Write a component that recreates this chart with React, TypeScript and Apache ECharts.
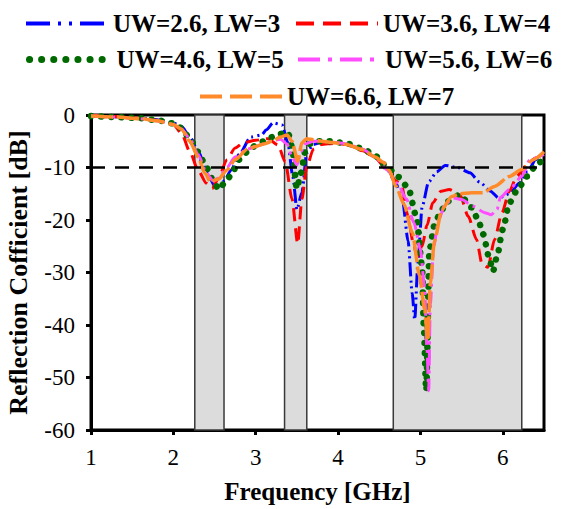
import React, { useEffect, useRef } from "react";
import * as echarts from "echarts";

const FONT = "Times New Roman, Liberation Serif, DejaVu Serif, serif";

const seriesNames = [
  "UW=2.6, LW=3",
  "UW=3.6, LW=4",
  "UW=4.6, LW=5",
  "UW=5.6, LW=6",
  "UW=6.6, LW=7",
];

const blueFreq = [1.0, 1.3, 1.6, 1.8, 2.0, 2.1, 2.2, 2.3, 2.4, 2.5, 2.55, 2.62, 2.7, 2.8, 2.94, 3.07, 3.13, 3.21, 3.32, 3.39, 3.45, 3.5, 3.56, 3.62, 3.7, 3.8, 3.95, 4.1, 4.3, 4.45, 4.6, 4.7, 4.78, 4.85, 4.9, 4.93, 4.97, 5.02, 5.1, 5.2, 5.3, 5.45, 5.6, 5.72, 5.85, 5.95, 6.08, 6.2, 6.3, 6.4, 6.5];
const blueS11 = [-0.2, -0.4, -0.6, -0.9, -1.5, -2.2, -4.2, -6.8, -10.5, -13.5, -14.0, -12.5, -10.5, -7.5, -4.2, -3.8, -2.8, -1.5, -1.9, -5.3, -11.7, -18.0, -14.8, -7.2, -5.6, -5.2, -5.3, -5.6, -6.6, -8.0, -10.5, -13.0, -16.0, -24.0, -34.0, -39.0, -28.0, -17.5, -12.7, -10.8, -9.6, -10.0, -11.0, -12.8, -14.5, -15.8, -15.0, -13.0, -10.8, -8.5, -7.0];

const redFreq = [1.0, 1.3, 1.6, 1.8, 2.0, 2.1, 2.2, 2.3, 2.4, 2.47, 2.55, 2.65, 2.75, 2.85, 3.0, 3.15, 3.27, 3.36, 3.44, 3.51, 3.56, 3.62, 3.7, 3.8, 3.95, 4.1, 4.3, 4.45, 4.6, 4.7, 4.77, 4.85, 4.91, 4.96, 5.02, 5.08, 5.15, 5.25, 5.35, 5.48, 5.58, 5.68, 5.75, 5.82, 5.9, 5.99, 6.08, 6.17, 6.27, 6.4, 6.5];
const redS11 = [0.0, -0.3, -0.6, -1.0, -1.8, -3.5, -7.0, -10.5, -13.0, -14.0, -12.0, -8.5, -6.3, -5.3, -4.8, -4.5, -5.7, -9.0, -16.0, -24.5, -16.0, -9.8, -6.5, -5.6, -5.4, -5.6, -6.8, -8.2, -10.5, -12.5, -13.5, -19.3, -24.2, -27.0, -25.0, -21.0, -16.7, -14.5, -14.2, -15.2, -19.3, -23.7, -28.5, -29.0, -23.7, -18.6, -14.5, -11.7, -9.8, -8.2, -7.0];

const greenFreq = [1.0, 1.3, 1.6, 1.8, 2.0, 2.1, 2.2, 2.3, 2.4, 2.5, 2.55, 2.62, 2.7, 2.8, 2.9, 3.0, 3.1, 3.2, 3.3, 3.39, 3.44, 3.5, 3.55, 3.6, 3.66, 3.75, 3.9, 4.1, 4.3, 4.45, 4.6, 4.73, 4.85, 4.95, 5.02, 5.04, 5.07, 5.11, 5.17, 5.24, 5.32, 5.48, 5.62, 5.7, 5.76, 5.84, 5.88, 5.93, 6.0, 6.08, 6.18, 6.29, 6.43, 6.5];
const greenS11 = [-0.2, -0.4, -0.6, -1.0, -1.6, -2.5, -4.5, -7.0, -10.0, -13.0, -14.2, -13.0, -11.5, -8.5, -7.0, -5.8, -5.0, -4.2, -3.6, -3.3, -6.0, -14.0, -11.0, -7.0, -5.5, -5.0, -5.0, -5.4, -6.4, -7.8, -10.0, -11.8, -13.8, -19.3, -28.8, -40.0, -52.5, -25.6, -21.0, -18.6, -16.5, -15.2, -17.6, -19.9, -22.7, -27.5, -29.8, -26.9, -21.8, -16.7, -14.2, -11.7, -9.1, -8.5];

const magentaFreq = [1.0, 1.3, 1.6, 1.8, 2.0, 2.1, 2.2, 2.3, 2.4, 2.48, 2.55, 2.65, 2.75, 2.9, 3.0, 3.1, 3.2, 3.3, 3.38, 3.44, 3.5, 3.55, 3.6, 3.7, 3.8, 3.95, 4.1, 4.3, 4.45, 4.6, 4.72, 4.83, 4.92, 5.0, 5.05, 5.08, 5.1, 5.12, 5.16, 5.22, 5.3, 5.4, 5.5, 5.64, 5.78, 5.86, 5.93, 5.97, 6.08, 6.23, 6.33, 6.5];
const magentaS11 = [-0.2, -0.4, -0.7, -1.1, -1.8, -2.7, -4.5, -7.5, -11.0, -12.5, -12.0, -10.0, -8.0, -6.5, -6.0, -5.5, -5.0, -4.6, -5.5, -8.0, -9.5, -7.0, -5.5, -5.0, -5.0, -5.2, -5.5, -6.5, -8.0, -10.5, -13.0, -16.0, -20.5, -25.6, -33.0, -45.0, -52.5, -36.0, -25.0, -20.0, -17.0, -15.8, -16.1, -17.4, -18.6, -19.0, -18.0, -15.7, -14.2, -11.7, -8.5, -7.5];

const orangeFreq = [1.0, 1.3, 1.6, 1.8, 2.0, 2.1, 2.2, 2.3, 2.38, 2.45, 2.55, 2.65, 2.75, 2.9, 3.0, 3.1, 3.2, 3.3, 3.38, 3.44, 3.51, 3.56, 3.62, 3.7, 3.8, 3.95, 4.1, 4.3, 4.45, 4.55, 4.62, 4.7, 4.8, 4.9, 4.99, 5.05, 5.09, 5.12, 5.17, 5.26, 5.38, 5.48, 5.62, 5.76, 5.9, 6.08, 6.23, 6.37, 6.5];
const orangeS11 = [-0.2, -0.4, -0.7, -1.1, -1.8, -2.7, -5.0, -8.0, -11.0, -12.7, -12.2, -10.5, -8.5, -6.5, -6.0, -5.5, -5.0, -4.2, -3.8, -5.0, -8.8, -5.3, -4.5, -4.7, -5.0, -5.3, -5.6, -6.6, -8.0, -9.0, -10.5, -13.5, -17.0, -22.4, -30.7, -37.0, -43.0, -32.0, -24.0, -18.0, -15.5, -15.0, -14.8, -14.8, -13.6, -11.7, -10.4, -8.5, -7.0];

const bandRanges = [
  [2.26, 2.615],
  [3.35, 3.62],
  [4.67, 6.23],
];

const xTicks = [1, 2, 3, 4, 5, 6];
const threshold = -10;

const pairs = (xs: number[], ys: number[]) => xs.map((x, i) => [x, ys[i]]);

export default function App() {
  const ref = useRef<HTMLDivElement>(null);
  useEffect(() => {
    if (!ref.current) return;
    const chart = echarts.init(ref.current, undefined, { renderer: "svg" });

    const styles = [
      { color: "#0000ff", type: [14, 4, 2, 4, 2, 4], width: 3, cap: "butt" },
      { color: "#ff0000", type: [13, 7], width: 3, cap: "butt" },
      { color: "#006a00", type: [0.1, 10], width: 6.5, cap: "round" },
      { color: "#ff4dff", type: [16, 5, 3, 5], width: 3, cap: "butt" },
      { color: "#ff8a2a", type: [22, 4], width: 3.5, cap: "butt" },
    ];
    const legendLine = [
      { type: [24, 8, 3, 8, 3, 8], width: 4, cap: "butt" },
      { type: [18, 9], width: 4, cap: "butt" },
      { type: [0.1, 12], width: 7, cap: "round" },
      { type: [22, 8, 4, 8], width: 4, cap: "butt" },
      { type: [22, 8], width: 4, cap: "butt" },
    ];
    const datas = [
      pairs(blueFreq, blueS11),
      pairs(redFreq, redS11),
      pairs(greenFreq, greenS11),
      pairs(magentaFreq, magentaS11),
      pairs(orangeFreq, orangeS11),
    ];

    const legendPos = [
      { left: 24, top: 11 },
      { left: 294, top: 11 },
      { left: 26, top: 47 },
      { left: 296, top: 47 },
      { left: 198, top: 84 },
    ];

    const option: any = {
      animation: false,
      backgroundColor: "#ffffff",
      textStyle: { fontFamily: FONT },
      legend: seriesNames.map((n, i) => ({
        data: [n],
        left: legendPos[i].left,
        top: legendPos[i].top,
        padding: 0,
        itemWidth: 82,
        itemHeight: 24,
        selectedMode: false,
        itemStyle: { opacity: 0, borderWidth: 0 },
        lineStyle: { width: legendLine[i].width, type: legendLine[i].type, cap: legendLine[i].cap },
        textStyle: { fontFamily: FONT, fontSize: 25, fontWeight: "bold", color: "#000" },
      })),
      grid: {
        left: 91,
        right: 23,
        top: 115,
        bottom: 79,
        containLabel: false,
        outerBoundsMode: "none",
        show: true,
        borderColor: "#000",
        borderWidth: 3,
        backgroundColor: "transparent",
      },
      xAxis: {
        type: "value",
        min: 1,
        max: 6.5,
        interval: 1,
        name: "Frequency [GHz]",
        nameLocation: "middle",
        nameGap: 49,
        nameTextStyle: { fontFamily: FONT, fontSize: 25, fontWeight: "bold", color: "#000" },
        axisLine: { show: true, onZero: false, lineStyle: { color: "#000", width: 3 } },
        axisTick: { show: true, inside: false, length: 5, lineStyle: { color: "#000", width: 3 } },
        splitLine: { show: false },
        axisLabel: {
          showMaxLabel: false,
          margin: 16,
          fontFamily: FONT,
          fontSize: 23,
          color: "#000",
          formatter: (v: number) => (xTicks.includes(v) ? String(v) : ""),
        },
      },
      yAxis: {
        type: "value",
        min: -60,
        max: 0,
        interval: 10,
        name: "Reflection Cofficient [dB]",
        nameLocation: "middle",
        nameGap: 60,
        nameTextStyle: { fontFamily: FONT, fontSize: 26, fontWeight: "bold", color: "#000" },
        axisLine: { show: true, onZero: false, lineStyle: { color: "#000", width: 3 } },
        axisTick: { show: true, inside: false, length: 5, lineStyle: { color: "#000", width: 3 } },
        splitLine: { show: false },
        axisLabel: { margin: 16, fontFamily: FONT, fontSize: 23, color: "#000" },
      },
      series: [
        {
          name: "bands",
          type: "line",
          data: [],
          z: 1,
          silent: true,
          markArea: {
            silent: true,
            itemStyle: { color: "#dcdcdc", borderColor: "#3a3a3a", borderWidth: 1.5 },
            label: { show: false },
            data: bandRanges.map((r) => [{ xAxis: r[0] }, { xAxis: r[1] }]),
          },
          markLine: {
            silent: true,
            symbol: "none",
            label: { show: false },
            lineStyle: { color: "#000", width: 2.5, type: [14, 10] },
            data: [{ yAxis: threshold }],
          },
        },
        ...seriesNames.map((n, i) => ({
          name: n,
          type: "line",
          data: datas[i],
          z: 3,
          symbol: "none",
          showSymbol: false,
          smooth: 0.25,
          smoothMonotone: "x",
          color: styles[i].color,
          lineStyle: {
            color: styles[i].color,
            width: styles[i].width,
            type: styles[i].type,
            cap: styles[i].cap,
          },
        })),
      ],
    };
    chart.setOption(option);
    return () => chart.dispose();
  }, []);
  return <div ref={ref} style={{ width: 567, height: 509, position: "absolute", left: 0, top: 0 }} />;
}
